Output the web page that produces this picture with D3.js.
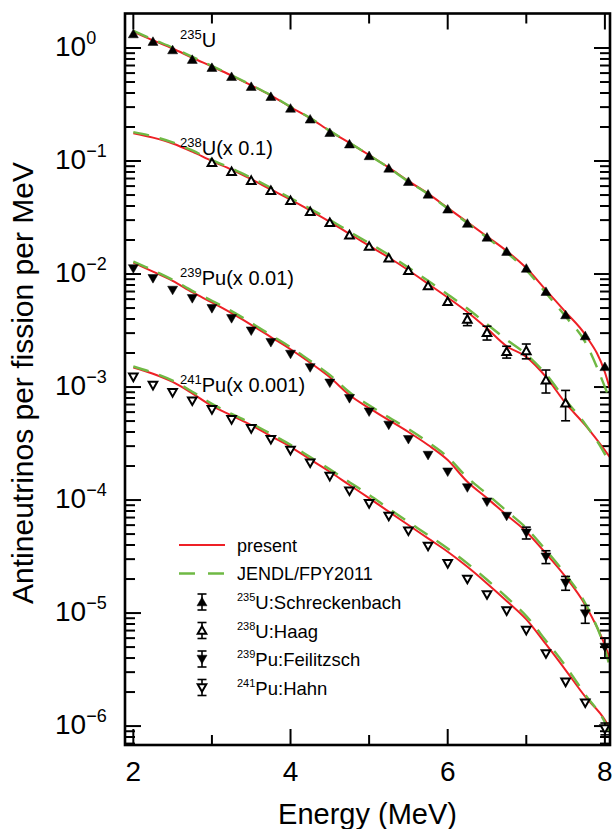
<!DOCTYPE html>
<html><head><meta charset="utf-8">
<script src="https://cdn.jsdelivr.net/npm/d3@7"></script>
<style>body{margin:0;background:#fff}svg{display:block}text{font-family:"Liberation Sans",Arial,Helvetica,sans-serif;fill:#000}</style>
</head><body><svg id="c" width="612" height="829"></svg>
<script>
// ---------- data ----------
const modelEnergy = [2.0,2.25,2.5,2.75,3.0,3.25,3.5,3.75,4.0,4.25,4.5,4.75,5.0,5.25,5.5,5.75,6.0,6.25,6.5,6.75,7.0,7.25,7.5,7.75,8.0,8.06];
const presentU235 = [1.39,1.17,0.99,0.82,0.685,0.570,0.467,0.380,0.300,0.240,0.184,0.145,0.113,0.0875,0.0665,0.0515,0.0385,0.0288,0.0215,0.0160,0.0113,0.0072,0.0046,0.0029,0.00135,0.00098];
const jendlU235   = [1.42,1.19,1.01,0.835,0.695,0.575,0.470,0.382,0.302,0.240,0.185,0.145,0.113,0.0870,0.0660,0.0510,0.0380,0.0283,0.0210,0.0155,0.0108,0.0068,0.0042,0.0025,0.00100,0.00078];
const presentU238 = [0.176,0.161,0.143,0.121,0.100,0.0840,0.0690,0.0560,0.0455,0.0365,0.0290,0.0226,0.0178,0.0140,0.0108,0.0082,0.0062,0.00462,0.00330,0.00230,0.00185,0.00123,0.00072,0.00046,0.000275,0.000241];
const jendlU238   = [0.180,0.165,0.146,0.124,0.102,0.0860,0.0710,0.0580,0.0470,0.0378,0.0302,0.0237,0.0188,0.0148,0.0114,0.0087,0.0066,0.00495,0.00360,0.00262,0.00195,0.00130,0.00077,0.00047,0.000255,0.000212];
const presentPu239 = [0.0126,0.0105,0.0087,0.0069,0.0056,0.0045,0.00355,0.00277,0.00216,0.00164,0.00122,0.00085,0.00065,0.000510,0.000400,0.000307,0.000226,0.000145,0.000104,0.0000736,0.0000525,0.0000337,0.0000209,0.0000118,0.0000052,0.0000040];
const jendlPu239   = [0.0129,0.0108,0.0089,0.0071,0.0058,0.0047,0.0037,0.00288,0.00225,0.00171,0.00128,0.00090,0.00069,0.000540,0.000425,0.000325,0.000240,0.000158,0.000113,0.0000800,0.0000565,0.0000360,0.0000220,0.0000122,0.0000048,0.0000034];
const presentPu241 = [0.00149,0.00131,0.00111,0.00088,0.00068,0.000560,0.000461,0.000368,0.000296,0.000229,0.000178,0.000136,0.000104,0.0000789,0.0000601,0.0000458,0.0000349,0.0000257,0.0000183,0.0000128,0.0000088,0.0000053,0.00000313,0.00000182,0.00000113,0.00000095];
const jendlPu241   = [0.00152,0.00134,0.00114,0.00091,0.00071,0.000578,0.000478,0.000385,0.000308,0.000240,0.000187,0.000144,0.000111,0.0000840,0.0000640,0.0000490,0.0000372,0.0000275,0.0000197,0.0000138,0.0000094,0.0000057,0.0000034,0.0000019,0.00000108,0.00000088];

const energyFull = [2.0,2.25,2.5,2.75,3.0,3.25,3.5,3.75,4.0,4.25,4.5,4.75,5.0,5.25,5.5,5.75,6.0,6.25,6.5,6.75,7.0,7.25,7.5,7.75,8.0];
const energyHaag = [3.0,3.25,3.5,3.75,4.0,4.25,4.5,4.75,5.0,5.25,5.5,5.75,6.0,6.25,6.5,6.75,7.0,7.25,7.5];
const schreckenbachU235 = [1.33,1.14,0.96,0.79,0.67,0.557,0.455,0.371,0.292,0.234,0.178,0.141,0.111,0.0861,0.0656,0.0507,0.0374,0.0280,0.0211,0.0158,0.0112,0.00698,0.00434,0.00283,0.00151];
const relErrU235 = [0.02,0.02,0.02,0.02,0.02,0.02,0.02,0.02,0.02,0.02,0.02,0.02,0.02,0.02,0.02,0.02,0.02,0.02,0.02,0.02,0.03,0.03,0.04,0.05,0.07];
const haagU238 = [0.0966,0.0804,0.0670,0.0546,0.0445,0.0356,0.0284,0.0221,0.0175,0.0138,0.0107,0.00783,0.00569,0.00397,0.00303,0.00205,0.00209,0.00115,0.000718];
const relErrU238 = [0.02,0.02,0.02,0.02,0.02,0.02,0.02,0.02,0.02,0.02,0.03,0.04,0.06,0.12,0.14,0.12,0.15,0.23,0.30];
const feilitzschPu239 = [0.0112,0.00916,0.00722,0.00609,0.00497,0.00405,0.00315,0.00249,0.00196,0.00149,0.00109,0.000794,0.000605,0.000462,0.000345,0.000250,0.000178,0.000129,0.0000966,0.0000722,0.0000514,0.0000315,0.0000185,0.0000099,0.0000050];
const relErrPu239 = [0.02,0.02,0.02,0.02,0.02,0.02,0.02,0.02,0.02,0.02,0.02,0.02,0.02,0.02,0.02,0.02,0.02,0.02,0.02,0.03,0.12,0.13,0.14,0.18,0.20];
const hahnPu241 = [0.00123,0.00104,0.000898,0.000757,0.000634,0.000517,0.000431,0.000345,0.000277,0.000214,0.000163,0.000121,0.0000935,0.0000722,0.0000535,0.0000392,0.0000275,0.0000200,0.0000146,0.0000105,0.00000707,0.00000439,0.00000246,0.00000161,0.00000095];
const relErrPu241 = [0.02,0.02,0.02,0.02,0.02,0.02,0.02,0.02,0.02,0.02,0.02,0.02,0.02,0.02,0.02,0.02,0.02,0.02,0.02,0.02,0.03,0.04,0.05,0.06,0.12];

const xMajorTicks = [2,4,6,8];
const xMinorTicks = [3,5,7];
const yTickExponents = [0,-1,-2,-3,-4,-5,-6];
const curveLabels = [["235","U"],["238","U(x 0.1)"],["239","Pu(x 0.01)"],["241","Pu(x 0.001)"]];
const legendNames = ["present","JENDL/FPY2011"];
const legendData = [["235","U:Schreckenbach"],["238","U:Haag"],["239","Pu:Feilitzsch"],["241","Pu:Hahn"]];

// ---------- setup ----------
const L=125,R=610,T=13.5,B=745;
const RED="#ee2026", GREEN="#6fb944";
const svg=d3.select("#c");
const x=d3.scaleLinear().domain([1.894,8.065]).range([L,R]);
const y=d3.scaleLog().domain([6.8e-7,2.02]).range([B,T]);
svg.append("defs").append("clipPath").attr("id","clip").append("rect")
  .attr("x",L).attr("y",T).attr("width",R-L).attr("height",B-T);

// ticks
const yMajor=yTickExponents.map(e=>Math.pow(10,e));
const yMinor=[];
for(let k=-7;k<=0;k++)for(let m=2;m<=9;m++){const v=m*Math.pow(10,k); if(v>6.8e-7&&v<2.0)yMinor.push(v);}
function addAxis(gen,tx,ty){
  svg.append("g").attr("transform",`translate(${tx},${ty})`).call(gen)
    .call(g=>g.select(".domain").remove())
    .call(g=>g.selectAll("text").remove())
    .selectAll("line").attr("stroke","#000").attr("stroke-width",2);
}
addAxis(d3.axisBottom(x).tickValues(xMajorTicks).tickSize(-16).offset(0),0,B);
addAxis(d3.axisBottom(x).tickValues(xMinorTicks).tickSize(-10).offset(0),0,B);
addAxis(d3.axisTop(x).tickValues(xMajorTicks).tickSize(-16).offset(0),0,T);
addAxis(d3.axisTop(x).tickValues(xMinorTicks).tickSize(-10).offset(0),0,T);
addAxis(d3.axisLeft(y).tickValues(yMajor).tickSize(-16).offset(0),L,0);
addAxis(d3.axisLeft(y).tickValues(yMinor).tickSize(-10).offset(0),L,0);
addAxis(d3.axisRight(y).tickValues(yMajor).tickSize(-16).offset(0),R,0);
addAxis(d3.axisRight(y).tickValues(yMinor).tickSize(-10).offset(0),R,0);

// model lines
const plot=svg.append("g").attr("clip-path","url(#clip)");
const line=d3.line().x(d=>x(d[0])).y(d=>y(d[1])).curve(d3.curveMonotoneX);
const presents=[presentU235,presentU238,presentPu239,presentPu241];
const jendls=[jendlU235,jendlU238,jendlPu239,jendlPu241];
presents.forEach(s=>plot.append("path").attr("d",line(modelEnergy.map((e,i)=>[e,s[i]])))
  .attr("fill","none").attr("stroke",RED).attr("stroke-width",2));
jendls.forEach(s=>plot.append("path").attr("d",line(modelEnergy.map((e,i)=>[e,s[i]])))
  .attr("fill","none").attr("stroke",GREEN).attr("stroke-width",2.4).attr("stroke-dasharray","16,11"));

// markers
const triUp="M0,-4.8L5,3.8L-5,3.8Z", triDown="M0,4.8L5,-3.8L-5,-3.8Z";
const triUpO="M0,-4.3L4.3,3.3L-4.3,3.3Z", triDownO="M0,4.3L4.3,-3.3L-4.3,-3.3Z";
const expSets=[
  {E:energyFull,v:schreckenbachU235,err:relErrU235,path:triUp,filled:true},
  {E:energyHaag,v:haagU238,err:relErrU238,path:triUpO,filled:false},
  {E:energyFull,v:feilitzschPu239,err:relErrPu239,path:triDown,filled:true},
  {E:energyFull,v:hahnPu241,err:relErrPu241,path:triDownO,filled:false}
];
const marks=svg.append("g");
function drawMarker(g,cx,cy,set,lo,hi){
  if(Math.max(lo-cy,cy-hi)>4.8){
    g.append("line").attr("x1",cx).attr("x2",cx).attr("y1",lo).attr("y2",hi).attr("stroke","#000").attr("stroke-width",1.6);
    [lo,hi].forEach(yy=>g.append("line").attr("x1",cx-4.5).attr("x2",cx+4.5).attr("y1",yy).attr("y2",yy).attr("stroke","#000").attr("stroke-width",1.6));
  }
  g.append("path").attr("d",set.path).attr("transform",`translate(${cx},${cy})`)
    .attr("fill",set.filled?"#000":"#fff").attr("stroke","#000").attr("stroke-width",set.filled?0.5:2);
}
expSets.forEach(s=>{
  s.E.forEach((e,i)=>{
    const v=s.v[i], r=s.err[i];
    drawMarker(marks,x(e),y(v),s,Math.min(B,y(v*(1-r))),y(v*(1+r)));
  });
});

// curve labels
const labelPos=[47,155,285,392];
curveLabels.forEach((lab,i)=>{
  const t=svg.append("text").attr("x",180).attr("y",labelPos[i]);
  t.append("tspan").attr("font-size",13).attr("dy",-8.5).text(lab[0]);
  t.append("tspan").attr("font-size",20).attr("dy",8.5).text(lab[1]);
});

// axis labels
xMajorTicks.forEach(v=>svg.append("text").attr("x",x(v)).attr("y",781).attr("text-anchor","middle").attr("font-size",28).text(v));
yTickExponents.forEach(e=>{
  const t=svg.append("text").attr("x",55).attr("y",y(Math.pow(10,e))+8).attr("font-size",28);
  t.append("tspan").text("10");
  t.append("tspan").attr("font-size",18).attr("dy",-12).text(e===0?"0":"\u2212"+(-e));
});
svg.append("text").attr("x",(L+R)/2).attr("y",824).attr("text-anchor","middle").attr("font-size",29).text("Energy (MeV)");
svg.append("text").attr("transform","translate(33,383) rotate(-90)").attr("text-anchor","middle").attr("font-size",30).text("Antineutrinos per fission per MeV");

// legend
const lg=svg.append("g");
const rowY=[545,573.5,602,630.5,659,687.5];
lg.append("line").attr("x1",179).attr("x2",225).attr("y1",rowY[0]).attr("y2",rowY[0]).attr("stroke",RED).attr("stroke-width",2);
lg.append("line").attr("x1",179).attr("x2",225).attr("y1",rowY[1]).attr("y2",rowY[1]).attr("stroke",GREEN).attr("stroke-width",2.4).attr("stroke-dasharray","16,13");
legendNames.forEach((n,i)=>lg.append("text").attr("x",237).attr("y",rowY[i]+6.5).attr("font-size",18).text(n));
legendData.forEach((d,i)=>{
  const cy=rowY[i+2];
  drawMarker(lg,202,cy,expSets[i],cy+8,cy-8);
  const t=lg.append("text").attr("x",237).attr("y",cy+7).attr("font-size",18.5);
  t.append("tspan").attr("font-size",11).attr("dy",-8).text(d[0]);
  t.append("tspan").attr("dy",8).text(d[1]);
});

// frame
svg.append("rect").attr("x",L).attr("y",T).attr("width",R-L).attr("height",B-T)
  .attr("fill","none").attr("stroke","#000").attr("stroke-width",2.6);
</script></body></html>
